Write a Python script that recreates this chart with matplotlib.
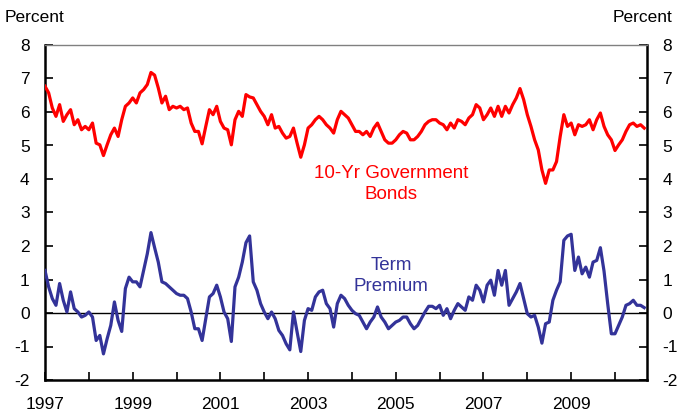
import matplotlib
matplotlib.use("Agg")
import matplotlib.pyplot as plt
import numpy as np

plt.rcParams['font.family'] = ['Liberation Sans', 'DejaVu Sans']

# Monthly readings starting January 1997
start_year = 1997
bond_yield = [
    6.77, 6.57, 6.12, 5.87, 6.22, 5.72, 5.92, 6.07, 5.62, 5.77, 5.47, 5.57,
    5.47, 5.67, 5.07, 5.02, 4.70, 5.02, 5.32, 5.52, 5.27, 5.77, 6.17, 6.27,
    6.42, 6.27, 6.57, 6.67, 6.82, 7.18, 7.10, 6.72, 6.27, 6.47, 6.07, 6.17,
    6.12, 6.17, 6.07, 6.12, 5.67, 5.42, 5.42, 5.05, 5.57, 6.07, 5.92, 6.17,
    5.72, 5.52, 5.47, 5.02, 5.77, 6.02, 5.87, 6.52, 6.45, 6.42, 6.22, 6.02,
    5.87, 5.62, 5.92, 5.52, 5.57, 5.37, 5.22, 5.27, 5.52, 5.07, 4.65, 5.02,
    5.52, 5.62, 5.77, 5.87, 5.77, 5.62, 5.52, 5.37, 5.77, 6.02, 5.92, 5.82,
    5.62, 5.42, 5.42, 5.32, 5.42, 5.27, 5.52, 5.67, 5.42, 5.17, 5.07, 5.07,
    5.17, 5.32, 5.42, 5.37, 5.17, 5.17, 5.27, 5.42, 5.62, 5.72, 5.77, 5.77,
    5.67, 5.62, 5.47, 5.67, 5.52, 5.77, 5.72, 5.62, 5.82, 5.92, 6.22, 6.12,
    5.77, 5.92, 6.12, 5.87, 6.17, 5.87, 6.17, 5.97, 6.22, 6.42, 6.70, 6.37,
    5.92, 5.57, 5.17, 4.87, 4.27, 3.87, 4.27, 4.27, 4.52, 5.27, 5.92, 5.57,
    5.67, 5.32, 5.62, 5.57, 5.62, 5.77, 5.47, 5.77, 5.97, 5.57, 5.32, 5.17,
    4.85, 5.02, 5.17, 5.42, 5.62, 5.67, 5.57, 5.62, 5.52,
]
term_premium = [
    1.27, 0.78, 0.43, 0.23, 0.88, 0.38, 0.03, 0.63, 0.13, 0.03, -0.12, -0.07,
    0.03, -0.12, -0.82, -0.67, -1.22, -0.77, -0.37, 0.33, -0.22, -0.55, 0.73, 1.07,
    0.93, 0.93, 0.78, 1.27, 1.77, 2.40, 1.95, 1.52, 0.93, 0.88, 0.78, 0.68,
    0.58, 0.53, 0.53, 0.43, 0.03, -0.47, -0.47, -0.82, -0.17, 0.48, 0.58, 0.83,
    0.48, 0.03, -0.17, -0.85, 0.78, 1.07, 1.52, 2.10, 2.30, 0.93, 0.68, 0.28,
    0.03, -0.17, 0.03, -0.17, -0.52, -0.67, -0.92, -1.10, 0.03, -0.57, -1.15, -0.22,
    0.13, 0.08, 0.48, 0.63, 0.68, 0.28, 0.13, -0.42, 0.28, 0.53, 0.43, 0.23,
    0.08, -0.02, -0.07, -0.27, -0.47, -0.27, -0.12, 0.18, -0.12, -0.27, -0.47, -0.37,
    -0.27, -0.22, -0.12, -0.12, -0.32, -0.47, -0.37, -0.17, 0.03, 0.20, 0.20, 0.13,
    0.23, -0.07, 0.13, -0.17, 0.08, 0.28, 0.18, 0.08, 0.48, 0.38, 0.83, 0.68,
    0.33, 0.83, 0.98, 0.53, 1.27, 0.83, 1.27, 0.23, 0.43, 0.63, 0.88, 0.43,
    -0.02, -0.12, -0.07, -0.42, -0.90, -0.32, -0.27, 0.38, 0.68, 0.93, 2.17, 2.30,
    2.35, 1.27, 1.67, 1.17, 1.37, 1.07, 1.52, 1.57, 1.95, 1.25, 0.28, -0.62,
    -0.62, -0.37, -0.12, 0.23, 0.28, 0.38, 0.23, 0.23, 0.16,
]
year_ticks = list(range(1997, 2011))
year_labels = [str(y) if y % 2 == 1 else "" for y in year_ticks]
y_ticks = list(range(-2, 9))

t_bond = start_year + np.arange(len(bond_yield)) / 12.0
t_tp = start_year + np.arange(len(term_premium)) / 12.0

fig = plt.figure(figsize=(6.82, 4.19), dpi=100)
ax = fig.add_axes([45/682, 1-380/419, (647-45)/682, (380-45)/419])

ax.axhline(0, color='black', lw=1.0, zorder=1)
ax.plot(t_bond, bond_yield, color='#FF0000', lw=2.3, zorder=3)
ax.plot(t_tp, term_premium, color='#333399', lw=2.3, zorder=3)

ax.set_xlim(1997, 2010.73)
ax.set_ylim(-2, 8)
ax.set_xticks(year_ticks)
ax.set_xticklabels(year_labels)
ax.set_yticks(y_ticks)
ax.set_yticklabels([str(v) for v in y_ticks])

ax.tick_params(axis='x', direction='in', length=6, width=1.2, labelsize=12.5, pad=12)
ax.tick_params(axis='y', direction='in', length=6, width=1.2, labelsize=12.5, pad=11,
               left=True, right=True, labelleft=True, labelright=True)

for side in ['left', 'right', 'bottom']:
    ax.spines[side].set_linewidth(1.8)
    ax.spines[side].set_color('black')
ax.spines['top'].set_linewidth(1.0)
ax.spines['top'].set_color('#808080')

fig.text(5/682, 1-18/419, "Percent", fontsize=12.5, ha='left', va='center')
fig.text(672/682, 1-18/419, "Percent", fontsize=12.5, ha='right', va='center')

ax.text(2004.9, 3.85, "10-Yr Government\nBonds", color='#FF0000', fontsize=13.5,
        ha='center', va='center', linespacing=1.3)
ax.text(2004.9, 1.1, "Term\nPremium", color='#333399', fontsize=13.5,
        ha='center', va='center', linespacing=1.3)

fig.savefig("out.png", dpi=100)
